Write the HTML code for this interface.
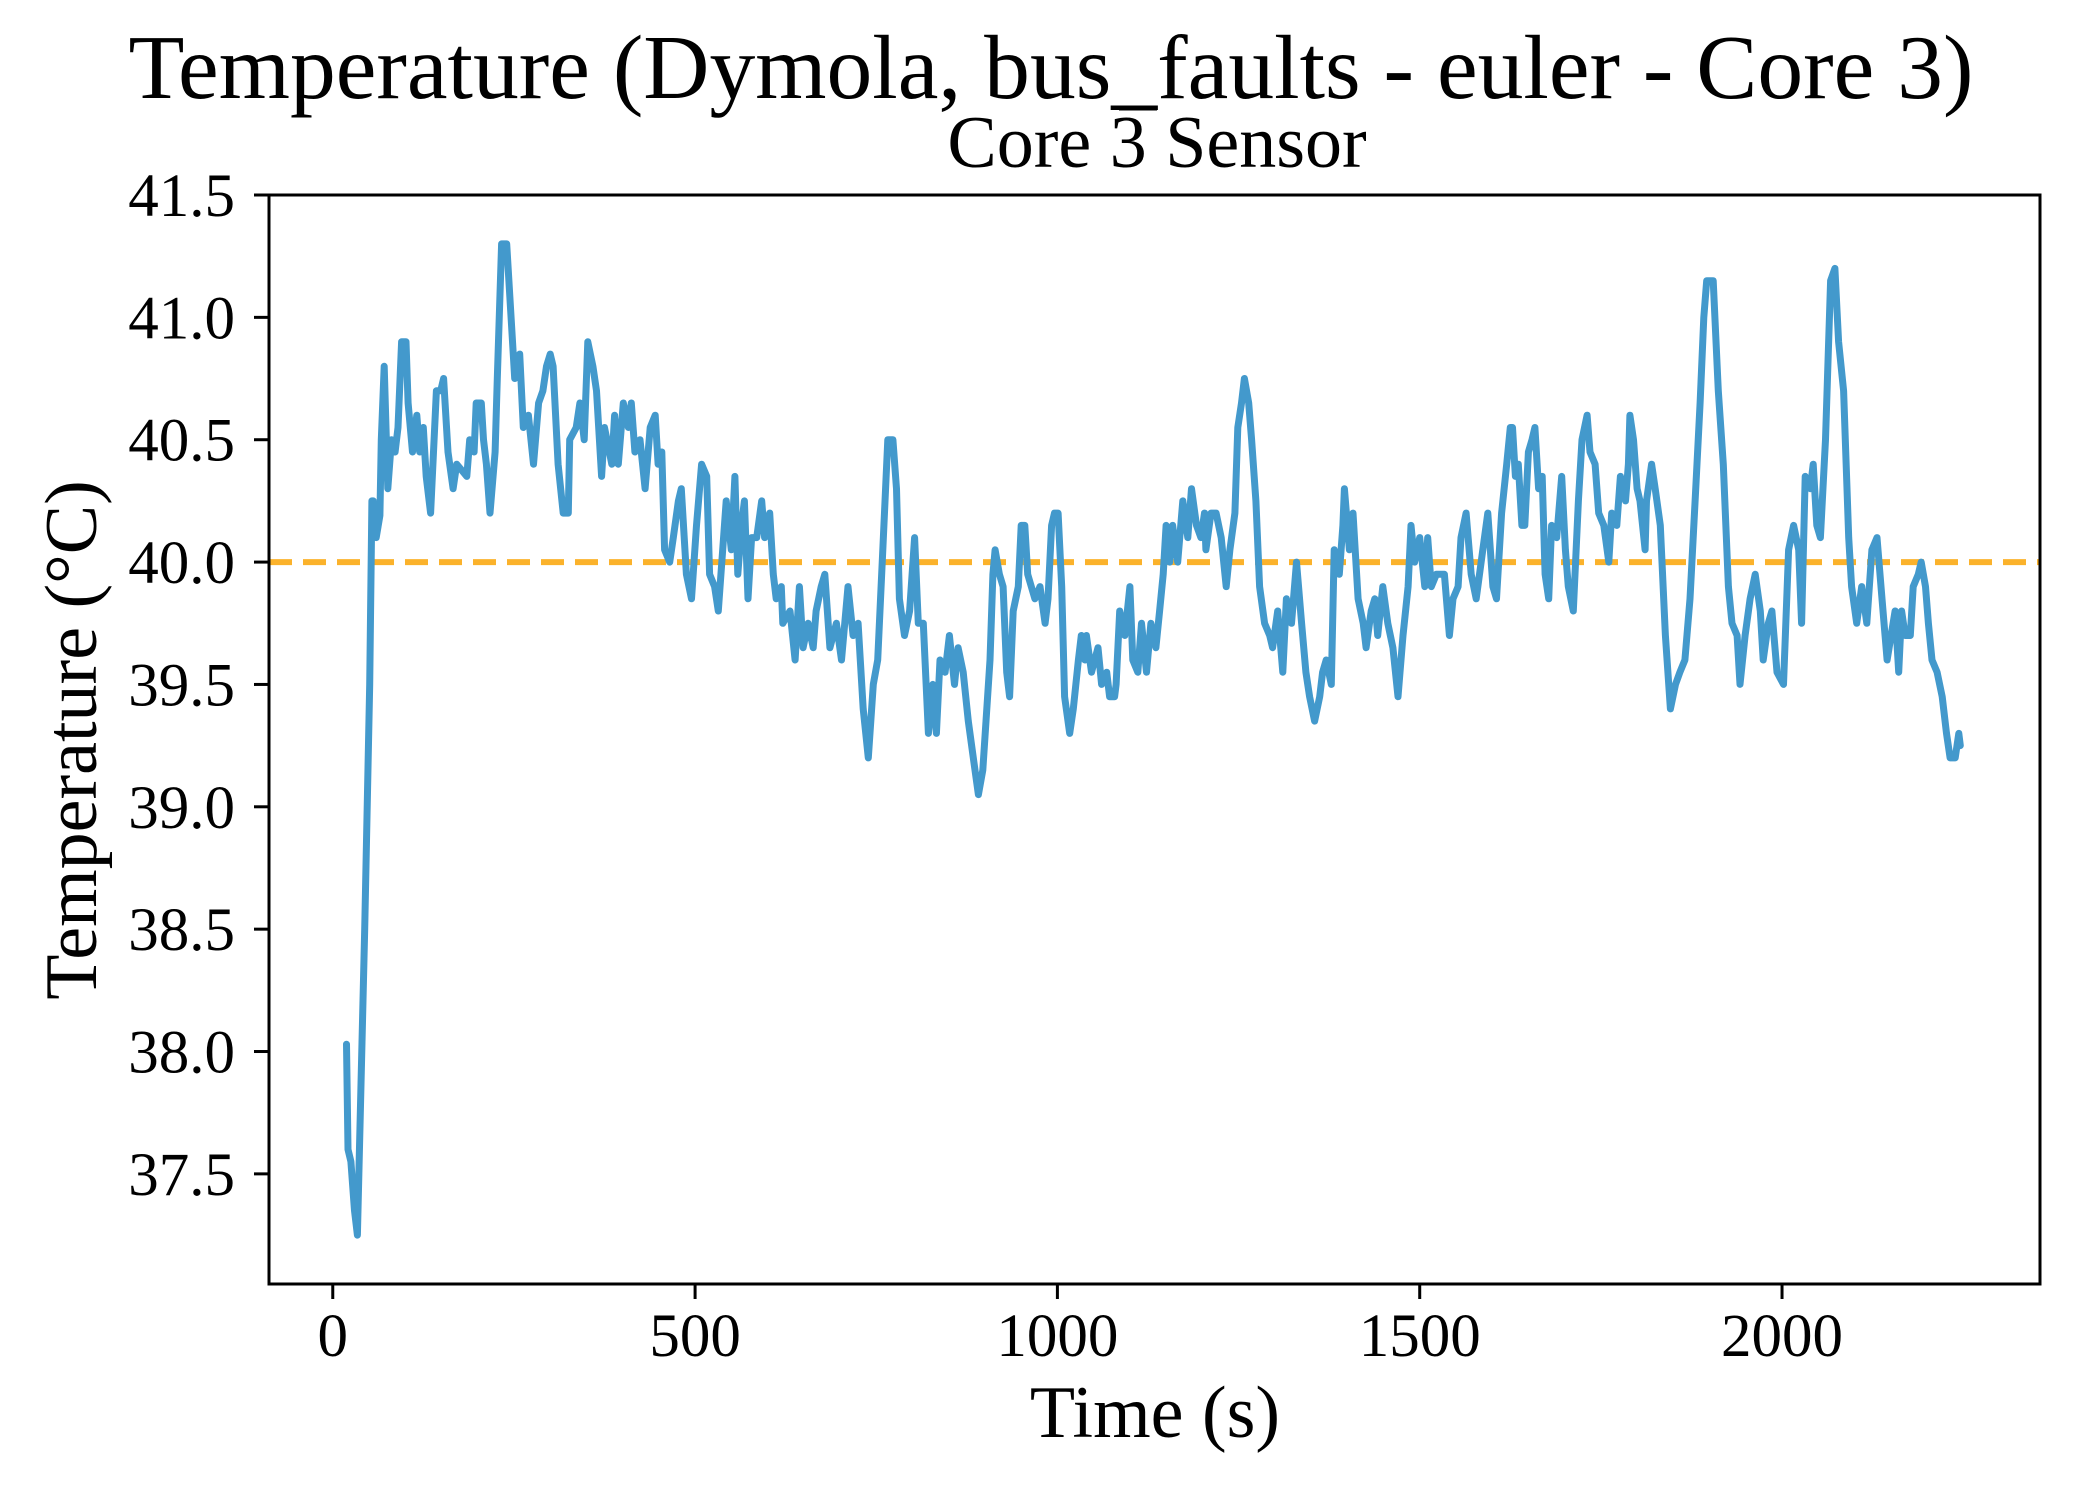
<!DOCTYPE html>
<html><head><meta charset="utf-8"><style>
html,body{margin:0;padding:0;background:#fff;}
svg{display:block;font-family:"Liberation Serif","DejaVu Serif",serif;}
</style></head><body>
<svg id="chart" width="2100" height="1500" viewBox="0 0 2100 1500" xmlns="http://www.w3.org/2000/svg">
<rect width="2100" height="1500" fill="#fff"/>
<text x="1051" y="98" font-size="91" text-anchor="middle" textLength="1845" lengthAdjust="spacingAndGlyphs">Temperature (Dymola, bus_faults - euler - Core 3)</text>
<text x="1157" y="167" font-size="74" text-anchor="middle">Core 3 Sensor</text>
<line x1="1119" y1="109" x2="1157" y2="109" stroke="#000" stroke-width="3"/>
<g id="plot"></g>
<text x="1155" y="1437" font-size="74" text-anchor="middle">Time (s)</text>
<text transform="translate(96,740) rotate(-90)" font-size="74" text-anchor="middle">Temperature (°C)</text>
</svg>
<script>
const times = [19,21,25,30,34,44,51,54,
56,60,65,67,71,76,81,86,90,95,101,104,110,116,120,125,129,135,143,149,153,159,166,171,185,189,195,198,205,208,212,217,224,227,233,240,247,251,258,263,270,277,284,290,295,300,304,311,318,325,327,336,341,347,352,359,364,371,375,385,389,394,401,408,412,417,424,431,438,445,449,454,458,465,470,477,481,488,495,502,509,516,520,527,532,
543,550,555,559,564,568,573,578,585,592,596,603,608,612,619,621,631,638,644,649,656,663,667,674,679,686,695,702,711,718,725,732,739,746,752,759,766,773,778,782,789,796,803,808,815,822,828,833,838,845,851,858,863,870,877,884,891,897,907,911,914,920,925,930,934,939,946,950,955,959,969,976,983,987,992,996,1001,1006,1010,1017,1022,1029,1033,1038,1040,1047,1056,1061,1068,1072,1079,
1081,1086,1093,1100,1104,1111,1116,1123,1129,1136,1141,1146,1150,1155,1159,1166,1173,1180,1185,1192,1198,1203,1205,1212,1219,1226,1233,1238,1245,1249,1254,1258,1264,1268,1274,1279,1286,1293,1297,1304,1311,1316,1323,1330,1337,1343,1348,1355,1362,1366,1371,1378,1382,1389,1394,1396,1403,1408,1415,1422,1426,1433,1438,1442,1449,1456,1463,1470,1477,1484,1488,1493,1500,1507,1511,1516,1523,1534,1541,1546,1553,1557,1564,1571,1578,1587,1594,1601,1606,1613,
1620,1625,1628,1632,1636,1641,1645,1650,1655,1659,1664,1669,1673,1678,1682,1689,1696,1701,1705,1712,1719,1724,1731,1735,1742,1747,1754,1761,1765,1772,1777,1784,1788,1790,1795,1800,1804,1811,1813,1820,1825,1832,1839,1846,1853,1859,1866,1873,1880,1887,1892,1896,1905,1912,1919,1926,1931,1938,1942,1949,1956,1963,1970,1974,1981,1986,1993,2002,2009,2016,2023,2027,2032,2039,2043,2048,2053,2060,2067,2073,2078,2085,2092,2096,2103,2110,2117,2124,2131,2138,2145,2156,2161,
2165,2170,2177,2181,2188,2192,2198,2202,2207,2214,2221,2227,2232,2239,2244,2246];
const temps = [38.03,37.6,37.55,37.35,37.25,38.5,39.5,40.25,
40.25,40.1,40.19,40.5,40.8,40.3,40.5,40.45,40.55,40.9,40.9,40.65,40.45,40.6,40.45,40.55,40.35,40.2,40.7,40.7,40.75,40.45,40.3,40.4,40.35,40.5,40.45,40.65,40.65,40.5,40.4,40.2,40.45,40.75,41.3,41.3,40.95,40.75,40.85,40.55,40.6,40.4,40.65,40.7,40.8,40.85,40.8,40.4,40.2,40.2,40.5,40.55,40.65,40.5,40.9,40.8,40.7,40.35,40.55,40.4,40.6,40.4,40.65,40.55,40.65,40.45,40.5,40.3,40.55,40.6,40.4,40.45,40.05,40.0,40.1,40.25,40.3,39.95,39.85,40.15,40.4,40.35,39.95,39.9,39.8,
40.25,40.05,40.35,39.95,40.15,40.25,39.85,40.1,40.1,40.25,40.1,40.2,39.95,39.85,39.9,39.75,39.8,39.6,39.9,39.65,39.75,39.65,39.8,39.9,39.95,39.65,39.75,39.6,39.9,39.7,39.75,39.4,39.2,39.5,39.6,40.05,40.5,40.5,40.3,39.85,39.7,39.8,40.1,39.75,39.75,39.3,39.5,39.3,39.6,39.55,39.7,39.5,39.65,39.55,39.35,39.2,39.05,39.15,39.6,39.95,40.05,39.95,39.9,39.55,39.45,39.8,39.9,40.15,40.15,39.95,39.85,39.9,39.75,39.85,40.15,40.2,40.2,39.9,39.45,39.3,39.4,39.6,39.7,39.6,39.7,39.55,39.65,39.5,39.55,39.45,39.45,
39.5,39.8,39.7,39.9,39.6,39.55,39.75,39.55,39.75,39.65,39.8,39.95,40.15,40.0,40.15,40.0,40.25,40.1,40.3,40.15,40.1,40.2,40.05,40.2,40.2,40.1,39.9,40.05,40.2,40.55,40.65,40.75,40.65,40.5,40.25,39.9,39.75,39.7,39.65,39.8,39.55,39.85,39.75,40.0,39.75,39.55,39.45,39.35,39.45,39.55,39.6,39.5,40.05,39.95,40.15,40.3,40.05,40.2,39.85,39.75,39.65,39.8,39.85,39.7,39.9,39.75,39.65,39.45,39.7,39.9,40.15,40.0,40.1,39.9,40.1,39.9,39.95,39.95,39.7,39.85,39.9,40.1,40.2,39.95,39.85,40.05,40.2,39.9,39.85,40.2,
40.4,40.55,40.55,40.35,40.4,40.15,40.15,40.45,40.5,40.55,40.3,40.35,39.95,39.85,40.15,40.1,40.35,40.05,39.9,39.8,40.25,40.5,40.6,40.45,40.4,40.2,40.15,40.0,40.2,40.15,40.35,40.25,40.4,40.6,40.5,40.3,40.25,40.05,40.25,40.4,40.3,40.15,39.7,39.4,39.5,39.55,39.6,39.85,40.25,40.65,41.0,41.15,41.15,40.7,40.4,39.9,39.75,39.7,39.5,39.7,39.85,39.95,39.8,39.6,39.75,39.8,39.55,39.5,40.05,40.15,40.05,39.75,40.35,40.3,40.4,40.15,40.1,40.5,41.15,41.2,40.9,40.7,40.1,39.9,39.75,39.9,39.75,40.05,40.1,39.85,39.6,39.8,39.55,
39.8,39.7,39.7,39.9,39.95,40.0,39.9,39.75,39.6,39.55,39.45,39.3,39.2,39.2,39.3,39.25];
const xTicks = [0,500,1000,1500,2000];
const yTicks = [37.5,38.0,38.5,39.0,39.5,40.0,40.5,41.0,41.5];
const threshold = [40.0];

const NS='http://www.w3.org/2000/svg';
const L=269,R=2040,T=195,B=1284;
const xMin=-88,xMax=2356,yMin=37.05,yMax=41.5;
const xs=v=>L+(v-xMin)/(xMax-xMin)*(R-L);
const ys=v=>B-(v-yMin)/(yMax-yMin)*(B-T);
const g=document.getElementById('plot');
function mk(tag,attrs){const e=document.createElementNS(NS,tag);for(const k in attrs)e.setAttribute(k,attrs[k]);g.appendChild(e);return e;}

threshold.forEach(v=>{
  const ln=mk('line',{x1:L,x2:R,y1:ys(v),y2:ys(v),stroke:'#fbb22b','stroke-width':6,'stroke-dasharray':'23 11'});
  
  
});
const pts=times.map((t,i)=>xs(t).toFixed(1)+','+ys(temps[i]).toFixed(1)).join(' ');
const pl=mk('polyline',{points:pts,fill:'none',stroke:'#4399cc','stroke-width':7,'stroke-linejoin':'round','stroke-linecap':'round'});



const frame=mk('rect',{x:L,y:T,width:R-L,height:B-T,fill:'none',stroke:'#000','stroke-width':3});



xTicks.forEach(v=>{
  const x=xs(v);
  const tk=mk('line',{x1:x,x2:x,y1:B,y2:B+15,stroke:'#000','stroke-width':3});
  
  
  const tx=mk('text',{x:x,y:1356,'font-size':61,'text-anchor':'middle'});
  tx.textContent=String(v);
  
  
});
yTicks.forEach(v=>{
  const y=ys(v);
  const tk=mk('line',{x1:L-15,x2:L,y1:y,y2:y,stroke:'#000','stroke-width':3});
  
  
  const tx=mk('text',{x:235,y:y+21,'font-size':61,'text-anchor':'end'});
  tx.textContent=v.toFixed(1);
  
  
});
</script>
</body></html>
